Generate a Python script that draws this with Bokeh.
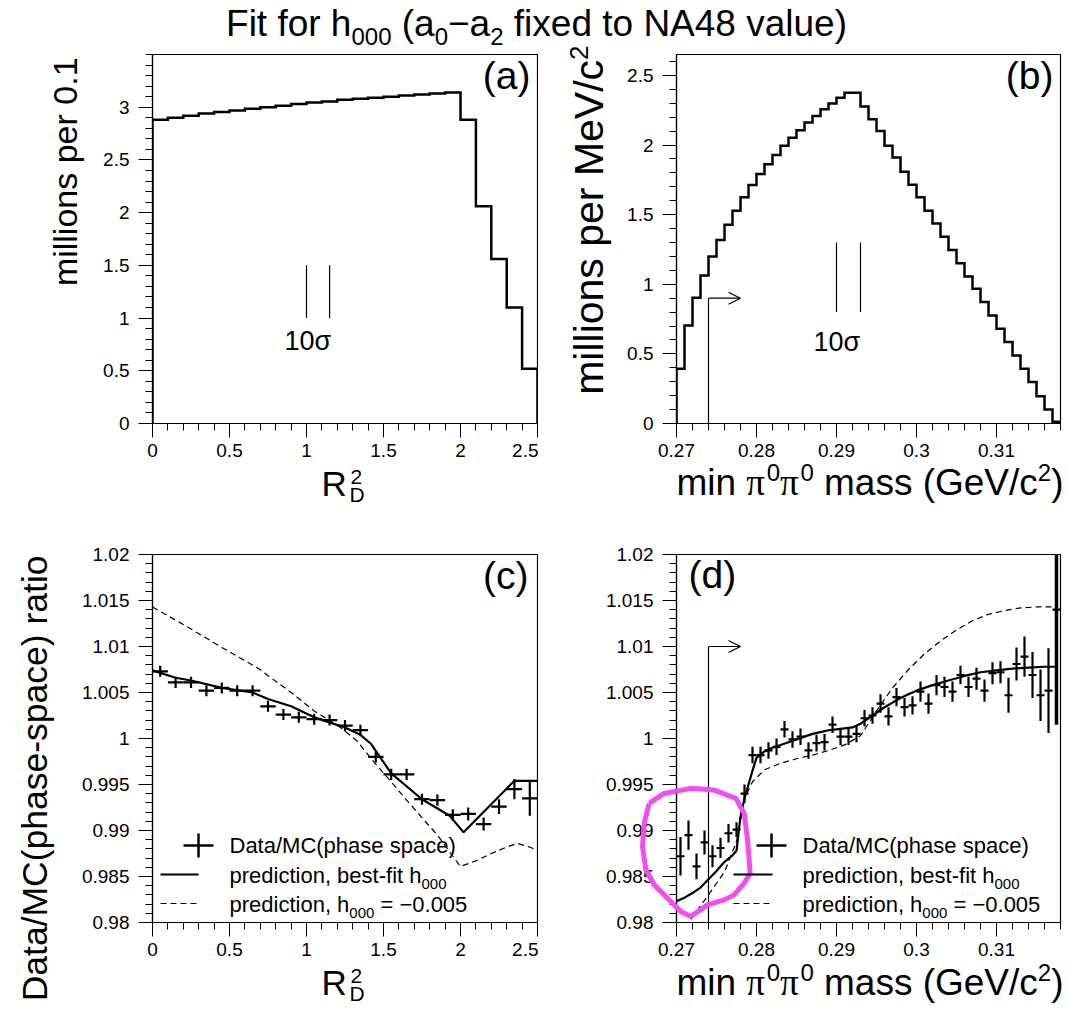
import math
from bokeh.plotting import figure
from bokeh.layouts import column, row
from bokeh.models import Range1d, FixedTicker, Label, Arrow, OpenHead
from bokeh.embed import file_html
from bokeh.resources import INLINE

# ------------------------------------------------------------------ data
# (a) R_D^2 histogram, bins of 0.1 from 0 to 2.5 (millions per 0.1)
a_bin_lo, a_bin_w = 0.0, 0.1
a_counts = [2.88, 2.90, 2.92, 2.94, 2.955, 2.97, 2.985, 3.00, 3.015, 3.03,
            3.045, 3.055, 3.07, 3.08, 3.09, 3.10, 3.11, 3.12, 3.13, 3.14,
            2.88, 2.06, 1.56, 1.10, 0.52]
# (b) min pi0pi0 mass histogram, bins of 0.001 GeV from 0.27 (millions per MeV)
b_bin_lo, b_bin_w = 0.270, 0.001
b_counts = [0.394, 0.704, 0.903, 1.063, 1.199, 1.318, 1.428, 1.528, 1.624, 1.712,
            1.791, 1.862, 1.929, 1.994, 2.053, 2.106, 2.161, 2.209, 2.256, 2.299,
            2.340, 2.376, 2.376, 2.276, 2.185, 2.101, 1.994, 1.910, 1.808, 1.714,
            1.624, 1.528, 1.437, 1.342, 1.246, 1.151, 1.055, 0.967, 0.872, 0.776,
            0.681, 0.585, 0.489, 0.394, 0.298, 0.196, 0.100, 0.012]
# (c) Data/MC ratio vs R_D^2
c_ratio = [1.0073, 1.0061, 1.0061, 1.0052, 1.0055, 1.0052, 1.0052, 1.0035, 1.0026, 1.0023,
           1.0021, 1.0020, 1.0014, 1.0009, 0.9980, 0.9961, 0.9961, 0.9934, 0.9933, 0.9917,
           0.9918, 0.9907, 0.9926, 0.9945, 0.9935]
c_err = [0.0006] * 20 + [0.0007, 0.0007, 0.0008, 0.0011, 0.0019]
c_fit_x = [0.0, 0.15, 0.25, 0.45, 0.65, 0.75, 0.9, 1.05, 1.25, 1.35, 1.42, 1.55, 1.75, 1.93, 2.02, 2.35, 2.5]
c_fit_y = [1.0074, 1.0066, 1.0063, 1.0055, 1.0050, 1.0043, 1.0035, 1.0023, 1.0012, 1.0004,
           0.9994, 0.9962, 0.9934, 0.9916, 0.9898, 0.9954, 0.9954]
c_alt_x = [0.0, 0.25, 0.45, 0.68, 0.9, 1.05, 1.22, 1.33, 1.44, 1.55, 1.65, 1.75, 1.85, 1.95,
           2.0, 2.1, 2.2, 2.3, 2.37, 2.45, 2.5]
c_alt_y = [1.0143, 1.0119, 1.0099, 1.0077, 1.0050, 1.0030, 1.0012, 0.9997, 0.9974, 0.9953,
           0.9933, 0.9914, 0.9895, 0.9872, 0.9861, 0.9867, 0.9875, 0.9882, 0.9886, 0.9882, 0.9878]
# (d) Data/MC ratio vs min pi0pi0 mass
d_ratio = [0.9872, 0.9895, 0.9861, 0.9887, 0.9872, 0.9881, 0.9897, 0.9901, 0.9940, 0.9982,
           0.9982, 0.9987, 0.9991, 1.0010, 0.9999, 1.0002, 0.9987, 0.9995, 0.9996, 1.0015,
           1.0002, 1.0002, 1.0005, 1.0022, 1.0025, 1.0038, 1.0024, 1.0045, 1.0034, 1.0036,
           1.0051, 1.0038, 1.0058, 1.0056, 1.0051, 1.0069, 1.0056, 1.0065, 1.0052, 1.0071,
           1.0072, 1.0047, 1.0081, 1.0089, 1.0069, 1.0047, 1.0052, 1.0140]
d_err = [0.0021, 0.0016, 0.0014, 0.0013, 0.0012, 0.0011, 0.0010, 0.0008, 0.0010, 0.0009,
         0.0009, 0.0009, 0.0009, 0.0009, 0.0009, 0.0009, 0.0009, 0.0009, 0.0009, 0.0009,
         0.0009, 0.0009, 0.0009, 0.0009, 0.0009, 0.0010, 0.0010, 0.0010, 0.0010, 0.0010,
         0.0011, 0.0011, 0.0011, 0.0011, 0.0011, 0.0010, 0.0011, 0.0012, 0.0012, 0.0012,
         0.0012, 0.0019, 0.0018, 0.0022, 0.0025, 0.0028, 0.0046, 0.0125]
d_fit_x = [0.2700, 0.2710, 0.2720, 0.2730, 0.2740, 0.2750, 0.2760, 0.2770, 0.2775, 0.2780,
           0.2785, 0.2790, 0.2795, 0.2800, 0.2810, 0.2820, 0.2830, 0.2840, 0.2850, 0.2860,
           0.2870, 0.2880, 0.2890, 0.2900, 0.2910, 0.2920, 0.2930, 0.2940, 0.2950, 0.2960,
           0.2970, 0.2980, 0.2990, 0.3000, 0.3020, 0.3040, 0.3060, 0.3080, 0.3100, 0.3120,
           0.3140, 0.3160, 0.3175]
d_fit_y = [0.9823, 0.9827, 0.9832, 0.9838, 0.9847, 0.9856, 0.9866, 0.9873, 0.9878, 0.9915,
           0.9935, 0.9950, 0.9965, 0.9979, 0.9986, 0.9990, 0.9993, 0.9996, 0.9999, 1.0002,
           1.0005, 1.0007, 1.0009, 1.0010, 1.0011, 1.0012, 1.0016, 1.0022, 1.0028, 1.0034,
           1.0039, 1.0044, 1.0048, 1.0052, 1.0058, 1.0063, 1.0068, 1.0072, 1.0074, 1.0076,
           1.0077, 1.0078, 1.0078]
d_alt_x = [0.2700, 0.2710, 0.2720, 0.2740, 0.2760, 0.2775, 0.2785, 0.2795, 0.2810, 0.2830,
           0.2850, 0.2870, 0.2890, 0.2910, 0.2930, 0.2950, 0.2970, 0.2990, 0.3010, 0.3030,
           0.3050, 0.3070, 0.3090, 0.3110, 0.3130, 0.3150, 0.3170]
d_alt_y = [0.9775, 0.9790, 0.9806, 0.9830, 0.9855, 0.9888, 0.9935, 0.9953, 0.9966, 0.9973,
           0.9978, 0.9982, 0.9987, 0.9993, 1.0003, 1.0030, 1.0055, 1.0075, 1.0092, 1.0106,
           1.0118, 1.0128, 1.0135, 1.0139, 1.0142, 1.0143, 1.0143]
# annotations
sigma_a = [1.0, 1.15]        # 10 sigma marker in R_D^2
sigma_a_y = [1.0, 1.5]
sigma_b = [0.290, 0.293]     # 10 sigma marker in mass
sigma_b_y = [0.8, 1.3]
mass_cut = 0.274
cut_arrow_b = (0.9, 0.278)
cut_arrow_d = (1.010, 0.278)
# hand-drawn magenta loop on panel (d), in (d)'s data units
loop_x = [0.26658, 0.26846, 0.27179, 0.27471, 0.27742, 0.27846, 0.27888, 0.27921, 0.27846,
          0.27721, 0.27596, 0.27388, 0.27179, 0.27054, 0.26888, 0.26721, 0.26617, 0.26575,
          0.26596, 0.26658]
loop_y = [0.99295, 0.99403, 0.99458, 0.99439, 0.99349, 0.99186, 0.98897, 0.98535, 0.98427,
          0.98300, 0.98246, 0.98192, 0.98065, 0.98119, 0.98264, 0.98409, 0.98571, 0.98825,
          0.99078, 0.99295]

# tick labels
rd_ticks = [0, 0.5, 1, 1.5, 2, 2.5]
rd_labels = ["0", "0.5", "1", "1.5", "2", "2.5"]
m_ticks = [0.27, 0.28, 0.29, 0.3, 0.31]
m_labels = ["0.27", "0.28", "0.29", "0.3", "0.31"]
a_yticks = [0, 0.5, 1, 1.5, 2, 2.5, 3]
a_ylabels = ["0", "0.5", "1", "1.5", "2", "2.5", "3"]
b_yticks = [0, 0.5, 1, 1.5, 2, 2.5]
b_ylabels = ["0", "0.5", "1", "1.5", "2", "2.5"]
r_ticks = [0.98, 0.985, 0.99, 0.995, 1.0, 1.005, 1.01, 1.015, 1.02]
r_labels = ["0.98", "0.985", "0.99", "0.995", "1", "1.005", "1.01", "1.015", "1.02"]

# ------------------------------------------------------------------ helpers
SANS = "Liberation Sans"
SERIF = "Liberation Serif"
BASE_FIX = 0.36   # renderer puts the alphabetic baseline this many font-sizes lower
CW = {' ': .278, '!': .278, '(': .333, ')': .333, ',': .278, '-': .333, '.': .278, '/': .278,
      '=': .584, '\u2212': .584, 'A': .667, 'C': .722, 'D': .722, 'F': .611, 'G': .778,
      'M': .833, 'N': .722, 'R': .722, 'V': .667, 'a': .556, 'b': .556, 'c': .5, 'd': .556,
      'e': .556, 'f': .278, 'g': .556, 'h': .556, 'i': .222, 'k': .5, 'l': .222, 'm': .833,
      'n': .556, 'o': .556, 'p': .556, 'r': .333, 's': .5, 't': .278, 'u': .556, 'v': .5,
      'x': .5, '\u03c0': .55, '\u03c3': .6}
PAGE_W, PAGE_H = 1068, 1011


def tw(s, size):
    return sum(CW.get(ch, 0.556) for ch in s) * size


def rich(fig, x, y, parts, angle=0.0, anchor="left"):
    """parts: (text, size, shift_up, font). x, y: page coords (from top-left) of the baseline anchor."""
    total = sum(tw(t, s) for t, s, sh, f in parts)
    adv = {"left": 0.0, "right": -total, "center": -total / 2}[anchor]
    for t, s, sh, f in parts:
        core = t.strip(" ")
        lead = tw(t[:len(t) - len(t.lstrip(" "))], s)
        if core:
            a = adv + lead
            if angle == 0:
                px, py = x + a, y - sh - BASE_FIX * s
            else:
                px, py = x - sh - BASE_FIX * s, y - a
            fig.add_layout(Label(x=px, y=PAGE_H - py, x_units="screen", y_units="screen",
                                 text=core, text_font=f, text_font_size=f"{s}px",
                                 text_color="black", text_align="left",
                                 text_baseline="alphabetic", angle=angle))
        adv += tw(t, s)


def seg(fig, x0, y0, x1, y1, width=1.2, dash="solid"):
    fig.add_layout(Arrow(x_start=x0, y_start=PAGE_H - y0, x_end=x1, y_end=PAGE_H - y1,
                         start_units="screen", end_units="screen", end=None,
                         line_color="black", line_width=width, line_dash=dash))


def make_fig(w, h, xr, yr, bl, br, bt, bb):
    p = figure(width=w, height=h, x_range=Range1d(*xr), y_range=Range1d(*yr),
               min_border_left=bl, min_border_right=br, min_border_top=bt,
               min_border_bottom=bb, output_backend="svg", toolbar_location=None,
               title=None, frame_align=False)
    p.xgrid.visible = False
    p.ygrid.visible = False
    p.outline_line_color = "black"
    p.outline_line_width = 1.2
    p.outline_line_alpha = 1.0
    p.background_fill_color = "white"
    p.border_fill_color = "white"
    for ax in (p.xaxis[0], p.yaxis[0]):
        ax.axis_line_color = "black"
        ax.axis_line_width = 1.2
        ax.major_tick_line_color = "black"
        ax.minor_tick_line_color = "black"
        ax.major_tick_in = 0
        ax.major_tick_out = 14
        ax.minor_tick_in = 0
        ax.minor_tick_out = 7
        ax.major_label_text_font = SANS
        ax.major_label_text_font_size = "19px"
        ax.major_label_text_color = "black"
    p.xaxis[0].major_label_standoff = 6
    p.yaxis[0].major_label_standoff = 9
    return p


def set_ticks(ax, ticks, labels, minor):
    ax.ticker = FixedTicker(ticks=ticks, minor_ticks=minor)
    ax.major_label_overrides = {t: l for t, l in zip(ticks, labels)}


def step_outline(lo, w, vals):
    edges = [lo + i * w for i in range(len(vals) + 1)]
    xs, ys = [edges[0]], [0.0]
    for i, v in enumerate(vals):
        xs += [edges[i], edges[i + 1]]
        ys += [v, v]
    xs.append(edges[-1])
    ys.append(0.0)
    return xs, ys


rd_minor = [round(i * 0.1, 3) for i in range(26)]
m_minor = [round(0.27 + i * 0.002, 4) for i in range(25)]
r_minor = [round(0.98 + i * 0.001, 4) for i in range(41)]

# ------------------------------------------------------------------ panels
# frames on the page: (a)/(c) x 152..537, (b)/(d) x 676..1060;
# top row y 54..423, bottom row y 554..922
pa = make_fig(538, 500, (0, 2.5), (0, 3.5), 152, 1, 54, 77)
set_ticks(pa.xaxis[0], rd_ticks, rd_labels, rd_minor)
set_ticks(pa.yaxis[0], a_yticks, a_ylabels, [round(i * 0.1, 2) for i in range(36)])
xs, ys = step_outline(a_bin_lo, a_bin_w, a_counts)
pa.line(xs, ys, line_color="black", line_width=2.5, line_join="miter")
pa.segment(x0=sigma_a, y0=[sigma_a_y[0]] * 2, x1=sigma_a, y1=[sigma_a_y[1]] * 2,
           line_color="black", line_width=1.2)

pb = make_fig(530, 500, (0.27, 0.318), (0, 2.65), 138, 8, 54, 77)
set_ticks(pb.xaxis[0], m_ticks, m_labels, m_minor)
set_ticks(pb.yaxis[0], b_yticks, b_ylabels, [round(i * 0.1, 2) for i in range(27)])
xs, ys = step_outline(b_bin_lo, b_bin_w, b_counts)
pb.line(xs, ys, line_color="black", line_width=2.5, line_join="miter")
pb.segment(x0=sigma_b, y0=[sigma_b_y[0]] * 2, x1=sigma_b, y1=[sigma_b_y[1]] * 2,
           line_color="black", line_width=1.2)
pb.segment(x0=[mass_cut], y0=[0], x1=[mass_cut], y1=[cut_arrow_b[0]], line_color="black", line_width=1.2)
pb.add_layout(Arrow(x_start=mass_cut, y_start=cut_arrow_b[0], x_end=cut_arrow_b[1], y_end=cut_arrow_b[0],
                    end=OpenHead(size=12, line_width=1.2, line_color="black"),
                    line_color="black", line_width=1.2))

pc = make_fig(538, 511, (0, 2.5), (0.98, 1.02), 152, 1, 54, 89)
set_ticks(pc.xaxis[0], rd_ticks, rd_labels, rd_minor)
set_ticks(pc.yaxis[0], r_ticks, r_labels, r_minor)
c_x = [a_bin_lo + (i + 0.5) * a_bin_w for i in range(len(c_ratio))]
pc.line(c_alt_x, c_alt_y, line_color="black", line_width=1.2, line_dash="6 4")
pc.line(c_fit_x, c_fit_y, line_color="black", line_width=2.2)
pc.segment(x0=[x - a_bin_w / 2 for x in c_x], y0=c_ratio, x1=[x + a_bin_w / 2 for x in c_x], y1=c_ratio,
           line_color="black", line_width=2.2)
pc.segment(x0=c_x, y0=[r - e for r, e in zip(c_ratio, c_err)], x1=c_x,
           y1=[r + e for r, e in zip(c_ratio, c_err)], line_color="black", line_width=2.2)

pd_ = make_fig(530, 511, (0.27, 0.318), (0.98, 1.02), 138, 8, 54, 89)
set_ticks(pd_.xaxis[0], m_ticks, m_labels, m_minor)
set_ticks(pd_.yaxis[0], r_ticks, r_labels, r_minor)
d_x = [b_bin_lo + (i + 0.5) * b_bin_w for i in range(len(d_ratio))]
pd_.line(d_alt_x, d_alt_y, line_color="black", line_width=1.2, line_dash="6 4")
pd_.line(d_fit_x, d_fit_y, line_color="black", line_width=2.2)
pd_.segment(x0=[x - b_bin_w / 2 for x in d_x], y0=d_ratio, x1=[x + b_bin_w / 2 for x in d_x], y1=d_ratio,
            line_color="black", line_width=2.2)
pd_.segment(x0=d_x, y0=[r - e for r, e in zip(d_ratio, d_err)], x1=d_x,
            y1=[r + e for r, e in zip(d_ratio, d_err)], line_color="black",
            line_width=[2.2] * (len(d_x) - 1) + [3.5])
pd_.segment(x0=[mass_cut], y0=[0.98], x1=[mass_cut], y1=[cut_arrow_d[0]], line_color="black", line_width=1.2)
pd_.add_layout(Arrow(x_start=mass_cut, y_start=cut_arrow_d[0], x_end=cut_arrow_d[1], y_end=cut_arrow_d[0],
                     end=OpenHead(size=12, line_width=1.2, line_color="black"),
                     line_color="black", line_width=1.2))

# ------------------------------------------------------------------ transparent page overlay for all texts
ov = figure(width=PAGE_W, height=PAGE_H, x_range=Range1d(0, PAGE_W), y_range=Range1d(PAGE_H, 0),
            min_border=0, output_backend="svg", toolbar_location=None, title=None,
            x_axis_type=None, y_axis_type=None, frame_align=False)
ov.outline_line_color = None
ov.background_fill_color = None
ov.border_fill_color = None
ov.margin = (-PAGE_H, 0, 0, 0)

# title
T, TS = 37, 24
rich(ov, 536, 36,
     [("Fit for h", T, 0, SANS), ("000", TS, -9, SANS), (" (a", T, 0, SANS), ("0", TS, -9, SANS),
      ("\u2212a", T, 0, SANS), ("2", TS, -9, SANS), (" fixed to NA48 value)", T, 0, SANS)],
     anchor="center")
# panel tags and 10 sigma marks
PT = 39
rich(ov, 530, 89, [("(a)", PT, 0, SANS)], anchor="right")
rich(ov, 1053, 89, [("(b)", PT, 0, SANS)], anchor="right")
rich(ov, 528, 589, [("(c)", PT, 0, SANS)], anchor="right")
rich(ov, 688, 588, [("(d)", PT, 0, SANS)])
rich(ov, 307, 350, [("10\u03c3", 27, 0, SANS)], anchor="center")
rich(ov, 836, 351, [("10\u03c3", 27, 0, SANS)], anchor="center")
# axis titles
rich(ov, 77, 57, [("millions per 0.1", 34, 0, SANS)], angle=math.pi / 2, anchor="right")
rich(ov, 603, 45, [("millions per MeV/c", 41, 0, SANS), ("2", 26, 15, SANS)],
     angle=math.pi / 2, anchor="right")
rich(ov, 47, 555, [("Data/MC(phase-space) ratio", 35.5, 0, SANS)], angle=math.pi / 2, anchor="right")
MASS_LABEL = [("min ", 37, 0, SANS), ("\u03c0", 37, 0, SERIF), ("0", 24, 14, SANS),
              ("\u03c0", 37, 0, SERIF), ("0", 24, 14, SANS), (" mass (GeV/c", 37, 0, SANS),
              ("2", 24, 14, SANS), (")", 37, 0, SANS)]
rich(ov, 1063, 495, MASS_LABEL, anchor="right")
rich(ov, 1063, 995, MASS_LABEL, anchor="right")
for base in (496, 995):
    rich(ov, 321, base, [("R", 35, 0, SANS)])
    rich(ov, 350, base - 12, [("2", 21, 0, SANS)])
    rich(ov, 349, base + 6, [("D", 21, 0, SANS)])

# legends of (c) and (d)
LF, LS = 22, 15
for mark_x, line_x0, line_x1, text_x in ((198, 160, 198, 229), (771, 733, 772, 802)):
    seg(ov, mark_x - 15, 845, mark_x + 15, 845, 2.5)
    seg(ov, mark_x, 833, mark_x, 857, 2.5)
    seg(ov, line_x0, 874, line_x1, 874, 2.2)
    seg(ov, line_x0, 903, line_x1, 903, 1.2, "6 4")
    rich(ov, text_x, 853, [("Data/MC(phase space)", LF, 0, SANS)])
    rich(ov, text_x, 883, [("prediction, best-fit h", LF, 0, SANS), ("000", LS, -6, SANS)])
    rich(ov, text_x, 912, [("prediction, h", LF, 0, SANS), ("000", LS, -6, SANS),
                           (" = \u22120.005", LF, 0, SANS)])

# hand-drawn magenta loop, mapped with (d)'s scale (frame x 676..1060, y 554..922)
loop_px = [676 + (x - 0.27) * 384 / 0.048 for x in loop_x]
loop_py = [554 + (1.02 - y) * 368 / 0.04 for y in loop_y]
ov.line(loop_px, loop_py, line_color="#f04ef0", line_width=5, line_join="round")

layout = column(row(pa, pb), row(pc, pd_), ov)
open("out.html", "w").write(file_html(layout, INLINE))
